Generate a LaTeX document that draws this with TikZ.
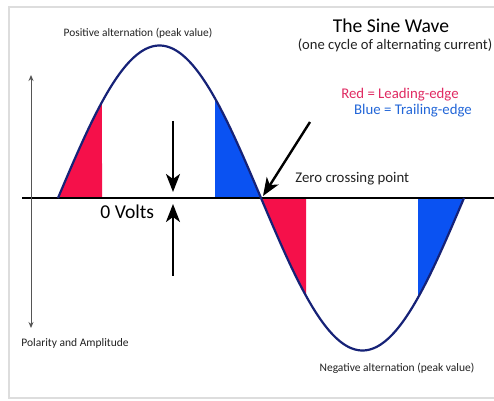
\documentclass[tikz,border=0pt]{standalone}
\usepackage{fontspec}
\setmainfont{Carlito}
\usetikzlibrary{arrows.meta}
\definecolor{wavec}{HTML}{162277}
\definecolor{redf}{HTML}{F5104A}
\definecolor{bluef}{HTML}{0A52F2}
\definecolor{redt}{HTML}{E02A62}
\definecolor{bluet}{HTML}{2266D8}
\definecolor{framec}{HTML}{DDDDDD}
\definecolor{axisg}{HTML}{555555}
\definecolor{textc}{HTML}{222222}
\tikzset{
  lbl/.style={inner sep=0pt, text=textc},
  bigarrow/.style={line width=1.2pt, -{Stealth[length=9pt,width=7pt,inset=2.5pt]}},
  thinarrow/.style={line width=0.5pt, axisg, {Stealth[length=3pt,width=2.5pt]}-{Stealth[length=3pt,width=2.5pt]}},
}
\newcommand{\swv}[1]{198-152.5*sin(((#1)-58)/203*180)}
\begin{document}
\begin{tikzpicture}[x=0.5pt,y=-0.5pt]
\useasboundingbox (0,0) rectangle (494,401);
\fill[white] (0,0) rectangle (494,401);
% frame
\draw[framec, line width=0.6pt] (494,7) -- (9,7) -- (9,398) -- (494,398);
% fills
\fill[redf] (58,198) -- plot[domain=58:102,samples=30] (\x,{\swv{\x}}) -- (102,198) -- cycle;
\fill[bluef] (215,198) -- plot[domain=215:261,samples=30] (\x,{\swv{\x}}) -- (261,198) -- cycle;
\fill[redf] (261,198) -- plot[domain=261:306,samples=30] (\x,{\swv{\x}}) -- (306,198) -- cycle;
\fill[bluef] (418,198) -- plot[domain=418:464,samples=30] (\x,{\swv{\x}}) -- (464,198) -- cycle;
% axis
\coordinate (axl) at (22,198);
\coordinate (axr) at (494,198);
\draw[black, line width=1.1pt] (axl) -- (axr);
% wave
\draw[wavec, line width=1.1pt] plot[domain=58:464,samples=200] (\x,{\swv{\x}});
% polarity arrow
\coordinate (pt) at (31,75);
\coordinate (pb) at (31,328);
\draw[thinarrow] (pt) -- (pb);
% volts arrows
\coordinate (d1) at (173,121);
\coordinate (d2) at (173,192);
\coordinate (u1) at (173,276);
\coordinate (u2) at (173,204);
\draw[bigarrow] (d1) -- (d2);
\draw[bigarrow] (u1) -- (u2);
% zero crossing arrow
\coordinate (z1) at (310,122);
\coordinate (z2) at (263,196);
\draw[bigarrow] (z1) -- (z2);
% texts
\node[lbl, font=\fontsize{5.7pt}{6pt}\selectfont] (pos) at (138,33) {Positive alternation (peak value)};
\node[lbl, font=\fontsize{9.8pt}{11pt}\selectfont, text=black] (title) at (391,26) {The Sine Wave};
\node[lbl, font=\fontsize{7.3pt}{8pt}\selectfont] (sub) at (395,45) {(one cycle of alternating current)};
\node[lbl, font=\fontsize{7.4pt}{8pt}\selectfont, text=redt] (red) at (400,95) {Red = Leading-edge};
\node[lbl, font=\fontsize{7.4pt}{8pt}\selectfont, text=bluet] (blue) at (413,111) {Blue = Trailing-edge};
\node[lbl, font=\fontsize{7.4pt}{8pt}\selectfont, anchor=west] (zero) at (295,179) {Zero crossing point};
\node[lbl, font=\fontsize{9.8pt}{11pt}\selectfont, anchor=west, text=black] (volts) at (100,212) {0 Volts};
\node[lbl, font=\fontsize{5.75pt}{6pt}\selectfont, anchor=west] (pol) at (21,343) {Polarity and Amplitude};
\node[lbl, font=\fontsize{5.75pt}{6pt}\selectfont] (neg) at (397,368) {Negative alternation (peak value)};
\end{tikzpicture}
\end{document}
